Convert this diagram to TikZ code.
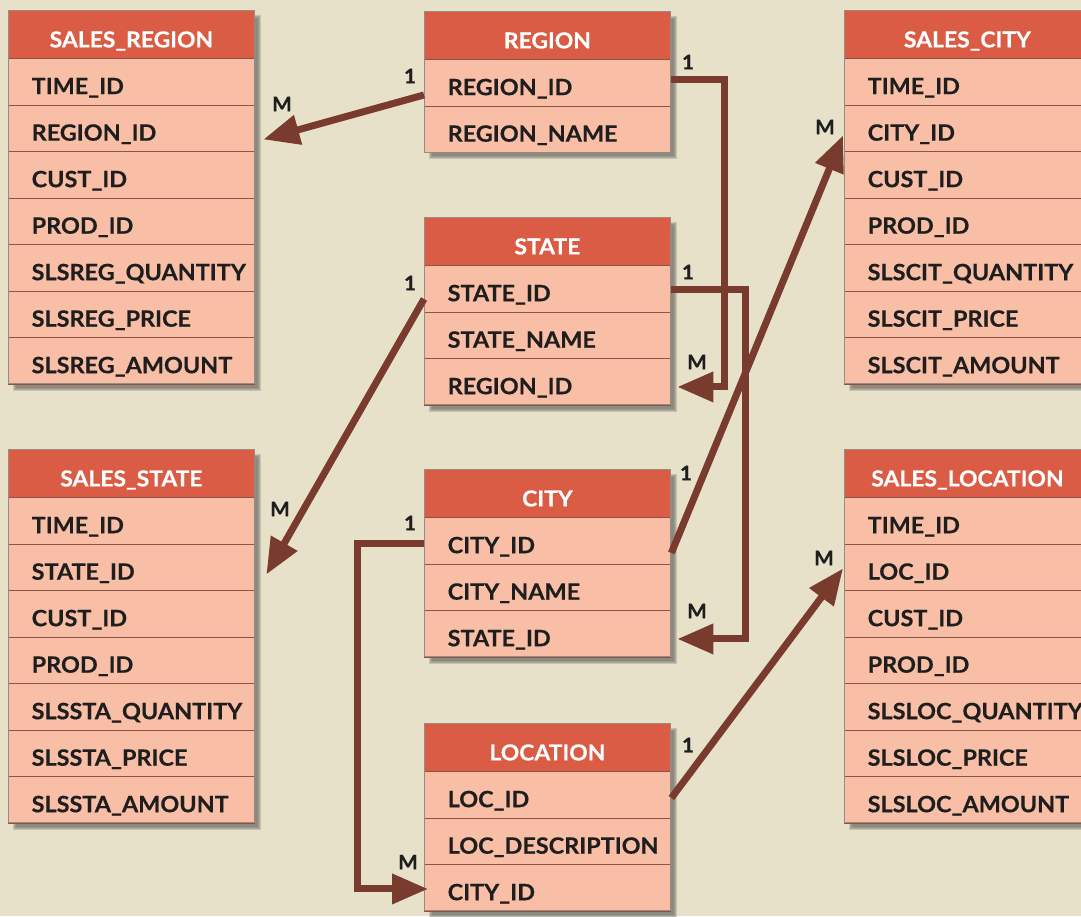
\documentclass[tikz,border=0pt]{standalone}
\usepackage{fontspec}
\setmainfont{Lato}[FakeStretch=1.04,BoldFeatures={FakeBold=0.4}]
\usetikzlibrary{arrows.meta,calc}
\definecolor{bgc}{HTML}{E8E1CA}
\definecolor{hdrc}{HTML}{DA5C45}
\definecolor{rowc}{HTML}{F8BEA6}
\definecolor{linec}{HTML}{8C5444}
\definecolor{edgec}{HTML}{9A8A80}
\definecolor{connc}{HTML}{7A3B2F}
\definecolor{txtc}{HTML}{1E1E1E}
\definecolor{shadc}{HTML}{666660}
\tikzset{
  hdr/.style={anchor=north west, fill=hdrc, draw=edgec, line width=0.8pt,
    minimum height=48pt, text width=200pt, inner xsep=23pt, inner ysep=0pt,
    text height=26pt, text depth=0pt,
    align=center, text=white, font=\fontsize{22}{24}\selectfont\bfseries},
  rowbox/.style={anchor=north west, fill=rowc, draw=linec, line width=1.4pt,
    minimum height=46.5pt, text width=200pt, inner xsep=23pt, inner ysep=0pt,
    text height=24.5pt, text depth=0pt,
    align=left, text=txtc, font=\fontsize{22.5}{24}\selectfont\bfseries},
  conn/.style={draw=connc, line width=7pt, line join=miter},
  tipped/.style={conn, -{Triangle[length=36pt,width=29pt]}},
  card/.style={text=txtc, font=\fontsize{20}{21}\selectfont\bfseries, inner sep=0pt}
}
\newcommand\dbtable[6]{%
  \foreach \k in {0,1,2,3}{%
    \fill[shadc, opacity=0.25] ({#2+8-\k},{#3+8-\k}) rectangle ({#2+246+4+\k},{#3+48+#5*46.5+4+\k});
  }
  \node[hdr] (#1-h) at (#2,#3) {#4};
  \foreach [count=\i] \r in {#6}{%
    \node[rowbox] (#1-\i) at (#2,{#3+48+(\i-1)*46.5}) {\r};
  }
  \draw[edgec, line width=0.8pt] (#2,#3) rectangle ({#2+246},{#3+48+#5*46.5});
}
\begin{document}
\begin{tikzpicture}[x=1pt,y=-1pt]
\useasboundingbox (0,0) rectangle (1081,916);
\fill[bgc] (0,0) rectangle (1081,916);
\clip (0,0) rectangle (1081,916);

\dbtable{sr}{8}{10}{SALES\_REGION}{7}{TIME\_ID,REGION\_ID,CUST\_ID,PROD\_ID,SLSREG\_QUANTITY,SLSREG\_PRICE,SLSREG\_AMOUNT}
\dbtable{ss}{8}{449}{SALES\_STATE}{7}{TIME\_ID,STATE\_ID,CUST\_ID,PROD\_ID,SLSSTA\_QUANTITY,SLSSTA\_PRICE,SLSSTA\_AMOUNT}
\dbtable{rg}{424}{11}{REGION}{2}{REGION\_ID,REGION\_NAME}
\dbtable{st}{424}{217}{STATE}{3}{STATE\_ID,STATE\_NAME,REGION\_ID}
\dbtable{ct}{424}{469}{CITY}{3}{CITY\_ID,CITY\_NAME,STATE\_ID}
\dbtable{lc}{424}{723}{LOCATION}{3}{LOC\_ID,LOC\_DESCRIPTION,CITY\_ID}
\dbtable{sc}{844}{10}{SALES\_CITY}{7}{TIME\_ID,CITY\_ID,CUST\_ID,PROD\_ID,SLSCIT\_QUANTITY,SLSCIT\_PRICE,SLSCIT\_AMOUNT}
\dbtable{sl}{844}{449}{SALES\_LOCATION}{7}{TIME\_ID,LOC\_ID,CUST\_ID,PROD\_ID,SLSLOC\_QUANTITY,SLSLOC\_PRICE,SLSLOC\_AMOUNT}

% connectors
\draw[tipped] ([yshift=-12pt]rg-1.west) -- ([xshift=8pt,yshift=-11pt]sr-2.east);
\draw[tipped] ([yshift=3pt]rg-1.east) -- ++(53,0) |- ([xshift=6pt,yshift=-5pt]st-3.east);
\draw[tipped] ([yshift=-1pt]st-1.east) -- ++(74,0) |- ([xshift=6pt,yshift=-5pt]ct-3.east);
\draw[tipped] ([yshift=-10pt]st-1.west) -- ([xshift=11pt,yshift=-7pt]ss-2.east);
\draw[tipped] ([yshift=-12pt]ct-1.east) -- ([xshift=-1pt,yshift=-7pt]sc-2.west);
\draw[tipped] ([yshift=-3pt]ct-1.west) -- ++(-67,0) |- ([xshift=4pt,yshift=-1pt]lc-3.west);
\draw[tipped] ([yshift=-3pt]lc-1.east) -- ([xshift=-1pt,yshift=-1pt]sl-2.west);

% cardinalities
\node[card] (c1) at (410,76) {1};
\node[card] (c2) at (282,104) {M};
\node[card] (c3) at (688,62) {1};
\node[card] (c4) at (697,362) {M};
\node[card] (c5) at (688,272) {1};
\node[card] (c6) at (697,611) {M};
\node[card] (c7) at (410,283) {1};
\node[card] (c8) at (280,509) {M};
\node[card] (c9) at (686,473) {1};
\node[card] (c10) at (825,127) {M};
\node[card] (c11) at (410,523) {1};
\node[card] (c12) at (408,862) {M};
\node[card] (c13) at (688,745) {1};
\node[card] (c14) at (824,558) {M};
\end{tikzpicture}
\end{document}
